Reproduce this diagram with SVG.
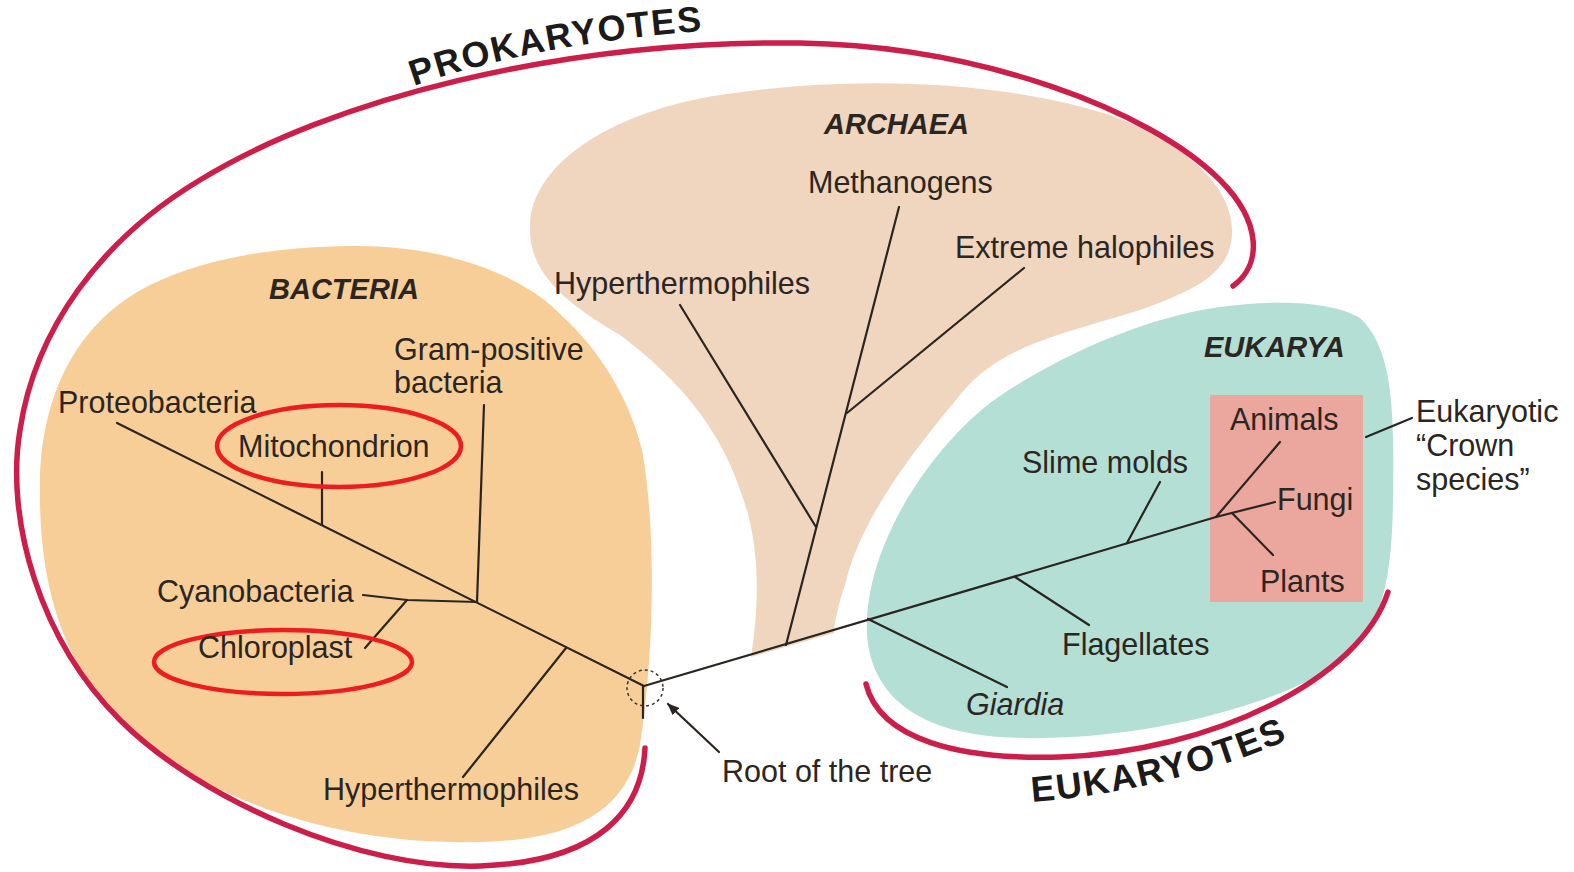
<svg xmlns="http://www.w3.org/2000/svg" xmlns:xlink="http://www.w3.org/1999/xlink" width="1574" height="872" viewBox="0 0 1574 872">
<style>
  .lbl{font-family:"Liberation Sans",Arial,sans-serif;font-size:30.5px;fill:#2b2622;}
  .dom{font-family:"Liberation Sans",Arial,sans-serif;font-size:29px;font-weight:bold;font-style:italic;fill:#2b2622;}
  .big{font-family:"Liberation Sans",Arial,sans-serif;font-size:36px;font-weight:bold;fill:#1c1a1a;}
  .br{fill:none;stroke:#2a2520;stroke-width:2.2;stroke-linecap:round;stroke-linejoin:round;}
  .arc{fill:none;stroke:#cc1e4b;stroke-width:5.5;stroke-linecap:round;}
  .ring{fill:none;stroke:#ec1c1f;stroke-width:4.5;}
</style>
<defs>
  <marker id="ah" viewBox="0 0 12 10" refX="11" refY="5" markerWidth="12" markerHeight="10" markerUnits="userSpaceOnUse" orient="auto">
    <path d="M0,0 L12,5 L0,10 Z" fill="#2a2520"/>
  </marker>
  <path id="pkPath" d="M 414 86 Q 540 42 716 30"/>
  <path id="ekPath" d="M 1032 802 Q 1180 790 1305 732"/>
</defs>
<rect width="1574" height="872" fill="#ffffff"/>

<g id="blobs">
  <path id="bacteria-region" fill="#f8ce98" d="M 350 246 C 450 244 530 280 562 316 C 600 350 630 400 642 450 C 655 520 656 640 640 745 C 625 820 560 845 450 842 C 330 840 200 800 120 720 C 60 660 38 580 40 480 C 42 390 80 320 150 285 C 210 256 280 247 350 246 Z"/>
  <path id="archaea-region" fill="#f0d5bf" d="M 751 657 C 760 600 760 540 740 490 C 720 430 680 380 620 335 C 560 300 528 270 530 225 C 532 160 620 110 720 95 C 850 75 1000 80 1110 115 C 1190 145 1235 190 1232 235 C 1230 275 1190 292 1140 310 C 1060 335 1000 345 960 395 C 910 455 860 520 845 585 C 838 605 835 620 834 633 Z"/>
  <path id="eukarya-region" fill="#b3dfd5" d="M 867 620 C 864 680 900 730 1000 737 C 1120 745 1280 710 1350 655 C 1385 620 1392 570 1393 500 C 1394 420 1395 350 1360 318 C 1330 300 1270 300 1220 307 C 1140 318 1050 360 990 403 C 930 450 870 540 867 620 Z"/>
  <rect id="crown-box" x="1210" y="395" width="153" height="207" fill="#eba69e"/>
</g>

<g id="group-arcs">
  <path id="prokaryotes-arc" class="arc" d="M 645 748 C 642 810 600 862 480 866 C 360 870 200 800 120 720 C 40 640 5 520 20 430 C 35 330 100 240 200 180 C 330 100 560 40 800 43 C 980 46 1150 110 1220 180 C 1262 222 1262 265 1233 286"/>
  <path id="eukaryotes-arc" class="arc" d="M 866 684 C 880 740 960 760 1060 757 C 1210 752 1360 680 1388 592"/>
  <text id="prokaryotes-label" class="big"><textPath xlink:href="#pkPath" textLength="294" lengthAdjust="spacing">PROKARYOTES</textPath></text>
  <text id="eukaryotes-label" class="big"><textPath xlink:href="#ekPath" textLength="264" lengthAdjust="spacing">EUKARYOTES</textPath></text>
</g>

<g id="connectors">
  <line class="br" x1="117" y1="423" x2="644" y2="686"/>
  <line class="br" x1="322" y1="472" x2="322" y2="525"/>
  <line class="br" x1="484" y1="405" x2="477" y2="602"/>
  <polyline class="br" points="363,595 407,600 477,602"/>
  <line class="br" x1="407" y1="600" x2="365" y2="648"/>
  <line class="br" x1="566" y1="648" x2="463" y2="777"/>
  <line class="br" x1="643" y1="686" x2="643" y2="718"/>
  <line class="br" x1="644" y1="686" x2="1216" y2="517"/>
  <line class="br" x1="786" y1="645" x2="899" y2="207"/>
  <line class="br" x1="680" y1="305" x2="816" y2="527"/>
  <line class="br" x1="847" y1="413" x2="1024" y2="268"/>
  <line class="br" x1="868" y1="619" x2="1007" y2="687"/>
  <line class="br" x1="1015" y1="577" x2="1089" y2="625"/>
  <line class="br" x1="1127" y1="543" x2="1160" y2="482"/>
  <line class="br" x1="1216" y1="517" x2="1280" y2="442"/>
  <line class="br" x1="1216" y1="517" x2="1275" y2="502"/>
  <line class="br" x1="1232" y1="513" x2="1273" y2="555"/>
  <line class="br" x1="1366" y1="437" x2="1412" y2="418"/>
  <circle id="root-circle" cx="645" cy="688" r="18" fill="none" stroke="#3a3530" stroke-width="1.5" stroke-dasharray="3 3"/>
  <line class="br" x1="719" y1="752" x2="668" y2="704" stroke-width="2.6" marker-end="url(#ah)"/>
</g>

<g id="highlights">
  <ellipse id="mito-ring" class="ring" cx="339" cy="446" rx="122" ry="41"/>
  <ellipse id="chloro-ring" class="ring" cx="283" cy="662" rx="129" ry="32"/>
</g>

<g id="domain-bacteria"><text class="dom" x="269" y="299">BACTERIA</text></g>
<g id="domain-archaea"><text class="dom" x="824" y="134">ARCHAEA</text></g>
<g id="domain-eukarya"><text class="dom" x="1204" y="357">EUKARYA</text></g>

<g id="node-proteobacteria"><text class="lbl" x="58" y="413">Proteobacteria</text></g>
<g id="node-grampositive"><text class="lbl" x="394" y="360">Gram-positive</text><text class="lbl" x="394" y="393">bacteria</text></g>
<g id="node-mitochondrion"><text class="lbl" x="238" y="457">Mitochondrion</text></g>
<g id="node-cyanobacteria"><text class="lbl" x="157" y="602">Cyanobacteria</text></g>
<g id="node-chloroplast"><text class="lbl" x="198" y="658">Chloroplast</text></g>
<g id="node-hyper-bacteria"><text class="lbl" x="323" y="800">Hyperthermophiles</text></g>
<g id="node-hyper-archaea"><text class="lbl" x="554" y="294">Hyperthermophiles</text></g>
<g id="node-methanogens"><text class="lbl" x="808" y="193">Methanogens</text></g>
<g id="node-halophiles"><text class="lbl" x="955" y="258">Extreme halophiles</text></g>
<g id="node-slimemolds"><text class="lbl" x="1022" y="473">Slime molds</text></g>
<g id="node-animals"><text class="lbl" x="1230" y="430">Animals</text></g>
<g id="node-fungi"><text class="lbl" x="1277" y="510">Fungi</text></g>
<g id="node-plants"><text class="lbl" x="1260" y="592">Plants</text></g>
<g id="node-flagellates"><text class="lbl" x="1062" y="655">Flagellates</text></g>
<g id="node-giardia"><text class="lbl" x="966" y="715" font-style="italic">Giardia</text></g>
<g id="node-root"><text class="lbl" x="722" y="782">Root of the tree</text></g>
<g id="node-crown"><text class="lbl" x="1416" y="422">Eukaryotic</text><text class="lbl" x="1416" y="456">“Crown</text><text class="lbl" x="1416" y="490">species”</text></g>
</svg>
